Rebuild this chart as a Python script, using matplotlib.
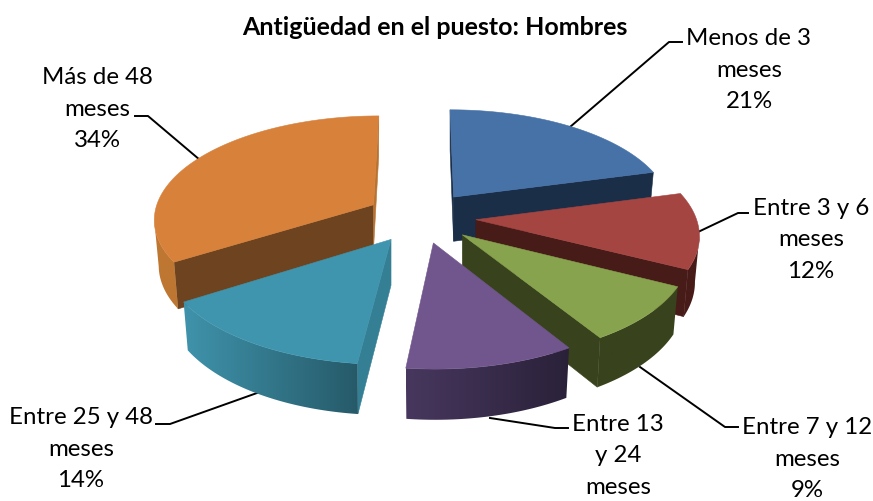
import numpy as np
import matplotlib
matplotlib.use('Agg')
import matplotlib.pyplot as plt
from matplotlib.patches import Polygon

plt.rcParams['font.family'] = ['Lato', 'DejaVu Sans']

title = 'Antigüedad en el puesto: Hombres'
# unrounded shares, the labels show them rounded
values = [20.8, 11.7, 8.7, 10.6, 14.2, 34.0]
# the 10% line of the fourth label falls outside the picture in the original
labels = ['Menos de 3\nmeses\n21%', 'Entre 3 y 6\nmeses\n12%', 'Entre 7 y 12\nmeses\n9%',
          'Entre 13\ny 24\nmeses', 'Entre 25 y 48\nmeses\n14%', 'Más de 48\nmeses\n34%']
top_colors = ['#4672A8', '#A54542', '#87A34E', '#70568C', '#3F94AE', '#D7813B']
cut_colors = ['#1A2E48', '#471B18', '#38431D', '#38431D', '#357F94', '#6E4420']
sliver_colors = ['#1A2E48', '#471B18', '#38431D', '#38431D', '#357F94', '#B87332']
wall_left = ['#1A2E48', '#471B18', '#38431D', '#47375E', '#3F93AB', '#BE7732']
wall_right = ['#1A2E48', '#471B18', '#38431D', '#2A2139', '#265A69', '#BE7732']
draw_order = [5, 0, 1, 2, 4, 3]

label_xy = [(749, 70), (811, 240), (807, 459), (618, 456), (81, 449), (97, 109)]
leaders = [[(570, 127), (669, 42), (682, 42)],
           [(698, 232), (738, 213), (748, 213)],
           [(640, 367), (725, 427), (738, 427)],
           [(490, 418), (555, 428), (568, 428)],
           [(257, 393), (170, 424), (156, 424)],
           [(200, 160), (148, 116), (135, 116)]]

cx, cy = 421, 217
rx, ry = 220, 103
persp = 0.1265
explode = 0.25
depth = 45


def project(x, y):
    s = 1 / (1 - persp * y)
    return cx + rx * x * s, cy + ry * y * s, s


def lower(px, py, s, ax_x):
    # bottom rim, pulled slightly in towards the slice apex
    return ax_x + (px - ax_x) * 0.98, py + depth * s ** 0.7


fig = plt.figure(figsize=(8.73, 5.01), dpi=100)
ax = fig.add_axes([0, 0, 1, 1])
ax.set_xlim(0, 873)
ax.set_ylim(501, 0)
ax.axis('off')

for pts in leaders:
    ax.plot([p[0] for p in pts], [p[1] for p in pts], color='black', lw=1.4, zorder=1)

edges = np.cumsum([0] + values) / sum(values) * 2 * np.pi


def face(xs, ys, color, z):
    ax.fill(xs, ys, facecolor=color, edgecolor=color, lw=0.4, zorder=z)


for z, i in enumerate(draw_order):
    z0 = 2 + z * 3
    mid = (edges[i] + edges[i + 1]) / 2
    ex, ey = explode * np.sin(mid), -explode * np.cos(mid)
    t = np.linspace(edges[i], edges[i + 1], 80)
    ax_x, ax_y, ax_s = project(ex, ey)
    px, py, ps = project(ex + np.sin(t), ey - np.cos(t))
    bx, by = lower(px, py, ps, ax_x)
    abx, aby = lower(ax_x, ax_y, ax_s, ax_x)

    # straight cut faces, only those turned towards the viewer
    if px[0] < ax_x:
        face([ax_x, px[0], bx[0], abx], [ax_y, py[0], by[0], aby], cut_colors[i], z0)
    if ax_x < px[-1]:
        face([px[-1], ax_x, abx, bx[-1]], [py[-1], ax_y, aby, by[-1]], sliver_colors[i], z0)

    # outer wall: horizontal gradient image clipped to the wall outline
    vis = np.where(np.diff(px) < 0)[0]
    if len(vis):
        k = np.r_[vis, vis[-1] + 1]
        wx = np.r_[px[k], bx[k][::-1]]
        wy = np.r_[py[k], by[k][::-1]]
        cmap = matplotlib.colors.LinearSegmentedColormap.from_list('w', [wall_left[i], wall_right[i]])
        edge = Polygon(np.c_[wx, wy], closed=True, facecolor='none', edgecolor='none', transform=ax.transData)
        ax.add_patch(edge)
        im = ax.imshow(np.linspace(0, 1, 128)[None, :], cmap=cmap, aspect='auto', interpolation='bilinear',
                       extent=(wx.min(), wx.max(), wy.max(), wy.min()), zorder=z0 + 1)
        im.set_clip_path(edge)
        ax.set_xlim(0, 873)
        ax.set_ylim(501, 0)

    face(np.r_[ax_x, px], np.r_[ax_y, py], top_colors[i], z0 + 2)

ax.text(435, 27, title, ha='center', va='center', fontsize=18, fontweight='bold', color='black', zorder=30)
for lab, (lx, ly) in zip(labels, label_xy):
    ax.text(lx, ly, lab, ha='center', va='center', fontsize=17.3, color='black',
            linespacing=1.62, zorder=30, clip_on=False)

fig.savefig('out.png', dpi=100)
